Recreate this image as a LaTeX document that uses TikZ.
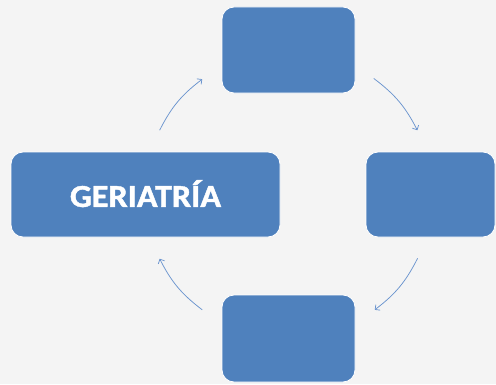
\documentclass[tikz,border=0pt]{standalone}
\usepackage{fontspec}
\setmainfont{Carlito}
\newfontfamily\labelfont{Carlito}[BoldFeatures={FakeBold=1.3}]
\usepackage{graphicx}
\usepackage{tikz}
\usetikzlibrary{calc, arrows.meta}

\definecolor{boxblue}{HTML}{4F81BD}
\definecolor{arrowblue}{HTML}{6C95CF}
\definecolor{paper}{HTML}{F4F4F4}

\tikzset{
	stagebox/.style={draw=white, line width=0.8pt, fill=boxblue, rounded corners=12pt, inner sep=0pt},
	cyclearrow/.style={-{Straight Barb[length=3.5pt, width=7pt]}, draw=arrowblue, line width=0.75pt, bend left=13}
}

\begin{document}
\begin{tikzpicture}[x=1pt,y=1pt]
	%\draw[help lines] (0,0) grid[step=50] (496,384);
	\fill[paper] (0,0) rectangle (496,384);
	\useasboundingbox (0,0) rectangle (496,384);
	\coordinate (hub) at (288.5,189.5);
	\node[stagebox, minimum width=133pt, minimum height=86pt] (top) at (288.5,334) {};
	\node[stagebox, minimum width=129pt, minimum height=85pt] (right) at (430.5,189.5) {};
	\node[stagebox, minimum width=133pt, minimum height=87pt] (bottom) at (288.5,45.5) {};
	\node[stagebox, minimum width=269pt, minimum height=85pt, text=white, font=\labelfont\bfseries\fontsize{32}{32}\selectfont] (geriatria) at (145.5,189.5) {\raisebox{2pt}{\scalebox{1.07}[1]{GERIATRÍA}}};
	\coordinate (a1) at ($(hub)+(153.5:144)$);
	\coordinate (a2) at ($(hub)+(126.8:144)$);
	\coordinate (a3) at ($(hub)+(53.7:144)$);
	\coordinate (a4) at ($(hub)+(26.5:144)$);
	\coordinate (a5) at ($(hub)+(-26.3:144)$);
	\coordinate (a6) at ($(hub)+(-53.2:144)$);
	\coordinate (a7) at ($(hub)+(-126.8:144)$);
	\coordinate (a8) at ($(hub)+(-153.5:144)$);
	\draw[cyclearrow] (a1) to (a2);
	\draw[cyclearrow] (a3) to (a4);
	\draw[cyclearrow] (a5) to (a6);
	\draw[cyclearrow] (a7) to (a8);
\end{tikzpicture}
\end{document}
